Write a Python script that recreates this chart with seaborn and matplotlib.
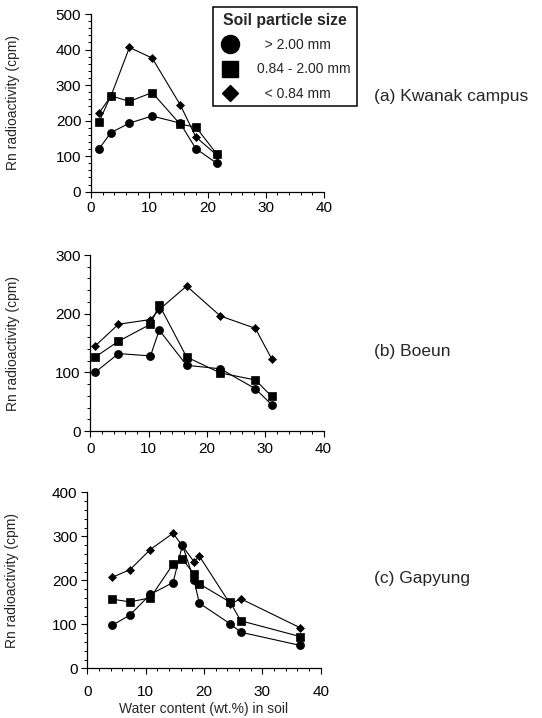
import matplotlib
matplotlib.use("Agg")
import matplotlib.pyplot as plt
from matplotlib.lines import Line2D
from matplotlib.ticker import MultipleLocator
import pandas as pd
import seaborn as sns

# Soil particle size classes
size_labels = ["> 2.00 mm", "0.84 - 2.00 mm", "< 0.84 mm"]

# (a) Kwanak campus: water content (wt.%) and Rn radioactivity (cpm)
water_a = [1.4, 3.4, 6.6, 10.5, 15.3, 18.0, 21.6]
coarse_a = [121, 166, 193, 213, 193, 121, 80]
medium_a = [197, 270, 254, 279, 190, 182, 106]
fine_a = [222, 268, 406, 376, 245, 154, 103]

# (b) Boeun
water_b = [0.8, 4.8, 10.3, 11.8, 16.5, 22.3, 28.3, 31.1]
coarse_b = [100, 132, 128, 172, 112, 106, 72, 45]
medium_b = [126, 153, 182, 215, 126, 99, 87, 59]
fine_b = [145, 182, 190, 207, 247, 196, 175, 123]

# (c) Gapyung
water_c = [4.3, 7.3, 10.8, 14.7, 16.3, 18.3, 19.2, 24.5, 26.3, 36.5]
coarse_c = [98, 121, 168, 195, 280, 200, 148, 101, 82, 52]
medium_c = [157, 151, 160, 237, 248, 214, 192, 150, 108, 72]
fine_c = [207, 224, 270, 307, 278, 242, 255, 146, 158, 92]

panel_titles = ["(a) Kwanak campus", "(b) Boeun", "(c) Gapyung"]
y_limits = [500, 300, 400]

sns.set_theme(style="ticks")
plt.rcParams["font.family"] = ["Liberation Sans", "DejaVu Sans"]
plt.rcParams["axes.edgecolor"] = "black"
plt.rcParams["xtick.color"] = "black"
plt.rcParams["ytick.color"] = "black"

W, H = 542, 718
fig = plt.figure(figsize=(W / 100, H / 100), dpi=100)
fig.patch.set_facecolor("white")


def add_axes_px(left, right, top, bottom):
    return fig.add_axes([left / W, 1 - bottom / H, (right - left) / W, (bottom - top) / H])


axes = [
    add_axes_px(91, 324, 14, 191.7),
    add_axes_px(90.5, 323.5, 255, 431),
    add_axes_px(87.3, 320.7, 492.3, 668.3),
]

panels = [
    (water_a, coarse_a, medium_a, fine_a),
    (water_b, coarse_b, medium_b, fine_b),
    (water_c, coarse_c, medium_c, fine_c),
]

marker_styles = [("o", 5.8), ("s", 5.8), ("D", 3.9)]
title_y = [97, 352, 578]
label_x = [20.5, 20.5, 18.5]
x_label_pad = [3, 4, 8]

for i, (ax, (water, coarse, medium, fine)) in enumerate(zip(axes, panels)):
    df = pd.DataFrame({"water": water, size_labels[0]: coarse,
                       size_labels[1]: medium, size_labels[2]: fine})
    for lab, (mk, ms) in zip(size_labels, marker_styles):
        sns.lineplot(data=df, x="water", y=lab, ax=ax, color="black",
                     linewidth=0.8, marker=mk, markersize=ms,
                     markeredgecolor="black", markerfacecolor="black",
                     markeredgewidth=0.5, legend=False)
    ax.set_xlim(0, 40)
    ax.set_ylim(0, y_limits[i])
    ax.xaxis.set_major_locator(MultipleLocator(10))
    ax.xaxis.set_minor_locator(MultipleLocator(2))
    ax.yaxis.set_major_locator(MultipleLocator(100))
    ax.yaxis.set_minor_locator(MultipleLocator(20))
    sns.despine(ax=ax)
    for side in ("left", "bottom"):
        ax.spines[side].set_linewidth(0.9)
        ax.spines[side].set_color("black")
    ax.tick_params(which="major", direction="out", length=4, width=0.8,
                   labelsize=11)
    ax.tick_params(axis="y", which="major", pad=3)
    ax.tick_params(axis="x", which="major", pad=x_label_pad[i])
    ax.tick_params(which="minor", direction="out", length=2.3, width=0.7)
    ax.set_facecolor("white")
    ax.grid(False)
    ax.set_ylabel("Rn radioactivity (cpm)", fontsize=10)
    pos = ax.get_position()
    ax.yaxis.set_label_coords((label_x[i] / W - pos.x0) / pos.width, 0.5)
    ax.set_xlabel("")
    fig.text(374 / W, 1 - title_y[i] / H, panel_titles[i], fontsize=12.5,
             va="center", ha="left")

axes[2].set_xlabel("Water content (wt.%) in soil", fontsize=10, labelpad=2)

handles = [
    Line2D([], [], linestyle="none", marker="o", markersize=13, color="black"),
    Line2D([], [], linestyle="none", marker="s", markersize=12, color="black"),
    Line2D([], [], linestyle="none", marker="D", markersize=8.5, color="black"),
]
legend_labels = ["  " + size_labels[0], size_labels[1], "  " + size_labels[2]]
leg = fig.legend(handles, legend_labels, title="Soil particle size",
                 loc="upper left", bbox_to_anchor=(213 / W, 1 - 7 / H),
                 frameon=True, fancybox=False, edgecolor="black", framealpha=1,
                 fontsize=10, title_fontproperties={"weight": "bold", "size": 11.3},
                 borderpad=0.4, labelspacing=0.75, handletextpad=1.1,
                 handlelength=1.7, borderaxespad=0)
leg.get_frame().set_linewidth(1.1)

fig.savefig("out.png", dpi=100)
